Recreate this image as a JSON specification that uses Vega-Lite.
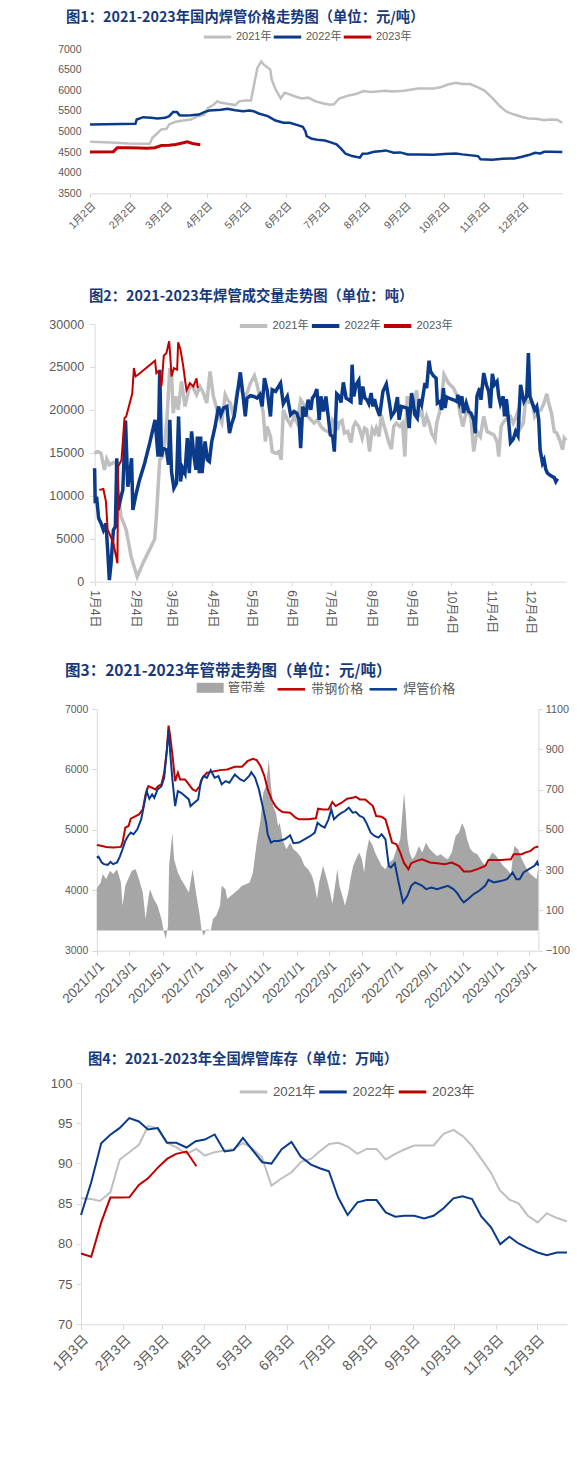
{
  "$schema": "https://vega.github.io/schema/vega-lite/v6.json",
  "padding": {"left": 48, "top": 11, "right": 0, "bottom": 0},
  "spacing": 130,
  "bounds": "flush",
  "resolve": {"scale": {"stroke": "independent", "fill": "independent"}, "legend": {"stroke": "independent", "fill": "independent"}},
  "config": {
    "view": {"stroke": null},
    "axis": {"grid": false, "domainColor": "#d9d9d9", "tickColor": "#d9d9d9", "labelColor": "#595959", "labelFont": "Liberation Sans, Noto Sans CJK SC", "labelOverlap": false},
    "title": {"font": "Noto Sans CJK SC", "fontWeight": "bold", "fontSize": 14.3, "color": "#17397a", "anchor": "start", "frame": "group"},
    "legend": {"orient": "none", "direction": "horizontal", "labelColor": "#595959", "labelFont": "Liberation Sans, Noto Sans CJK SC", "symbolType": "stroke", "symbolSize": 756}
  },
  "datasets": {
    "p1_2021": [{"d":2,"v":4750},{"d":18,"v":4730},{"d":32,"v":4705},{"d":48,"v":4702},{"d":50,"v":4840},{"d":57,"v":5050},{"d":61,"v":5065},{"d":63,"v":5170},{"d":68,"v":5235},{"d":74,"v":5265},{"d":80,"v":5290},{"d":85,"v":5370},{"d":90,"v":5410},{"d":93,"v":5570},{"d":97,"v":5640},{"d":100,"v":5730},{"d":102,"v":5700},{"d":108,"v":5670},{"d":114,"v":5640},{"d":117,"v":5730},{"d":122,"v":5750},{"d":126,"v":5750},{"d":128,"v":6060},{"d":131,"v":6540},{"d":134,"v":6700},{"d":136,"v":6620},{"d":141,"v":6500},{"d":142,"v":6260},{"d":145,"v":6020},{"d":149,"v":5800},{"d":152,"v":5940},{"d":156,"v":5900},{"d":159,"v":5860},{"d":165,"v":5800},{"d":170,"v":5820},{"d":176,"v":5730},{"d":182,"v":5680},{"d":187,"v":5650},{"d":190,"v":5660},{"d":194,"v":5800},{"d":201,"v":5870},{"d":207,"v":5910},{"d":213,"v":5980},{"d":218,"v":5960},{"d":230,"v":5990},{"d":235,"v":5970},{"d":244,"v":5990},{"d":255,"v":6040},{"d":267,"v":6040},{"d":272,"v":6070},{"d":278,"v":6140},{"d":284,"v":6180},{"d":289,"v":6150},{"d":295,"v":6150},{"d":301,"v":6070},{"d":306,"v":5990},{"d":312,"v":5815},{"d":318,"v":5610},{"d":323,"v":5480},{"d":329,"v":5410},{"d":335,"v":5350},{"d":340,"v":5315},{"d":346,"v":5310},{"d":352,"v":5275},{"d":357,"v":5290},{"d":362,"v":5285},{"d":366,"v":5210}],
    "p1_2022": [{"d":2,"v":5170},{"d":37,"v":5185},{"d":38,"v":5290},{"d":43,"v":5347},{"d":49,"v":5330},{"d":54,"v":5315},{"d":60,"v":5330},{"d":63,"v":5370},{"d":66,"v":5470},{"d":69,"v":5470},{"d":71,"v":5395},{"d":74,"v":5390},{"d":80,"v":5395},{"d":86,"v":5411},{"d":90,"v":5470},{"d":94,"v":5508},{"d":103,"v":5524},{"d":108,"v":5548},{"d":114,"v":5516},{"d":120,"v":5492},{"d":125,"v":5508},{"d":128,"v":5492},{"d":132,"v":5436},{"d":139,"v":5371},{"d":145,"v":5266},{"d":151,"v":5210},{"d":156,"v":5210},{"d":162,"v":5153},{"d":166,"v":5113},{"d":168,"v":5008},{"d":169,"v":4887},{"d":173,"v":4822},{"d":179,"v":4790},{"d":183,"v":4782},{"d":187,"v":4742},{"d":192,"v":4686},{"d":196,"v":4565},{"d":199,"v":4460},{"d":204,"v":4403},{"d":210,"v":4363},{"d":212,"v":4460},{"d":216,"v":4468},{"d":221,"v":4508},{"d":227,"v":4524},{"d":230,"v":4540},{"d":236,"v":4484},{"d":241,"v":4492},{"d":247,"v":4444},{"d":255,"v":4444},{"d":267,"v":4436},{"d":275,"v":4452},{"d":284,"v":4468},{"d":289,"v":4444},{"d":301,"v":4403},{"d":303,"v":4323},{"d":312,"v":4315},{"d":320,"v":4339},{"d":329,"v":4347},{"d":335,"v":4387},{"d":340,"v":4427},{"d":345,"v":4484},{"d":349,"v":4468},{"d":352,"v":4508},{"d":357,"v":4508},{"d":366,"v":4500}],
    "p1_2023": [{"d":2,"v":4500},{"d":20,"v":4510},{"d":23,"v":4605},{"d":32,"v":4605},{"d":40,"v":4600},{"d":46,"v":4590},{"d":52,"v":4605},{"d":57,"v":4660},{"d":63,"v":4665},{"d":68,"v":4685},{"d":74,"v":4726},{"d":77,"v":4750},{"d":81,"v":4710},{"d":87,"v":4680}],
    "p2_2021": [{"d":4,"v":14960},{"d":6.3,"v":15150},{"d":8.9,"v":14960},{"d":11.5,"v":13020},{"d":13.3,"v":14260},{"d":15.3,"v":13600},{"d":17.9,"v":13800},{"d":20.5,"v":13990},{"d":21.7,"v":10690},{"d":24.3,"v":7580},{"d":28.2,"v":6020},{"d":32,"v":2910},{"d":36.6,"v":580},{"d":41,"v":2140},{"d":50,"v":4935},{"d":51.3,"v":7580},{"d":53.9,"v":14180},{"d":55.9,"v":14570},{"d":57.7,"v":16130},{"d":59.5,"v":19240},{"d":61.6,"v":24870},{"d":62.9,"v":24290},{"d":64.2,"v":19620},{"d":66.2,"v":21570},{"d":68,"v":20010},{"d":70.6,"v":23320},{"d":73.2,"v":20400},{"d":75,"v":21570},{"d":77,"v":22930},{"d":79.6,"v":22540},{"d":82.1,"v":21760},{"d":84.7,"v":22730},{"d":87.3,"v":21960},{"d":89.9,"v":20790},{"d":92.4,"v":24480},{"d":95,"v":21570},{"d":97.1,"v":20400},{"d":98.9,"v":19240},{"d":101.4,"v":18460},{"d":104,"v":21760},{"d":105.8,"v":21180},{"d":107.9,"v":20790},{"d":110.4,"v":19240},{"d":113,"v":22150},{"d":115.6,"v":22730},{"d":118.1,"v":21570},{"d":120.7,"v":21960},{"d":123.3,"v":23120},{"d":126.4,"v":23980},{"d":128.4,"v":22930},{"d":131,"v":21180},{"d":133,"v":19820},{"d":134.8,"v":16320},{"d":136.1,"v":18070},{"d":138.7,"v":16900},{"d":140,"v":15150},{"d":142.6,"v":14960},{"d":145.1,"v":15150},{"d":146.9,"v":14180},{"d":148.5,"v":20010},{"d":151.6,"v":18850},{"d":154.1,"v":18260},{"d":156.7,"v":19240},{"d":159.3,"v":18460},{"d":161.8,"v":21180},{"d":164.4,"v":20600},{"d":167,"v":19240},{"d":169.6,"v":18850},{"d":172.1,"v":18460},{"d":174.7,"v":18850},{"d":177.3,"v":18070},{"d":179.8,"v":17680},{"d":182.4,"v":17490},{"d":185,"v":17290},{"d":186.3,"v":18850},{"d":188.9,"v":18460},{"d":190.1,"v":17680},{"d":191.4,"v":18540},{"d":193.5,"v":18770},{"d":195.3,"v":17290},{"d":197.9,"v":17490},{"d":200.4,"v":16200},{"d":202.2,"v":18070},{"d":203.8,"v":18540},{"d":206.3,"v":18070},{"d":208.9,"v":16710},{"d":210.7,"v":17880},{"d":212.5,"v":17680},{"d":214.6,"v":15150},{"d":216.6,"v":17760},{"d":218.4,"v":17290},{"d":219.7,"v":17880},{"d":221.8,"v":16900},{"d":223.6,"v":19430},{"d":225.4,"v":18260},{"d":227.4,"v":17290},{"d":229.5,"v":16130},{"d":231.3,"v":15430},{"d":233.1,"v":18070},{"d":235.1,"v":18460},{"d":237.7,"v":18070},{"d":239.8,"v":18460},{"d":241.6,"v":14570},{"d":243.4,"v":21570},{"d":245.4,"v":20790},{"d":247.5,"v":20010},{"d":249.3,"v":21370},{"d":250.6,"v":22270},{"d":252.6,"v":19240},{"d":254.4,"v":20010},{"d":256.5,"v":18070},{"d":258.3,"v":19240},{"d":260.1,"v":18460},{"d":262.1,"v":17290},{"d":264.7,"v":16520},{"d":266,"v":18460},{"d":268,"v":19620},{"d":269.8,"v":21370},{"d":271.6,"v":24090},{"d":275,"v":23120},{"d":278.8,"v":22540},{"d":281.9,"v":21570},{"d":284,"v":19430},{"d":286,"v":18070},{"d":287.8,"v":19240},{"d":290.4,"v":20010},{"d":292.2,"v":19040},{"d":294.3,"v":15150},{"d":296.8,"v":17490},{"d":299.4,"v":16900},{"d":302,"v":19240},{"d":304.5,"v":17490},{"d":307.1,"v":17290},{"d":309.7,"v":17100},{"d":312.2,"v":16320},{"d":313.5,"v":14570},{"d":315.3,"v":18070},{"d":317.4,"v":18650},{"d":320,"v":19040},{"d":322.5,"v":19240},{"d":324.6,"v":18460},{"d":326.4,"v":19040},{"d":327.7,"v":19620},{"d":330.2,"v":17880},{"d":332.3,"v":18460},{"d":334.1,"v":21180},{"d":336.7,"v":20870},{"d":339.2,"v":20790},{"d":341,"v":19240},{"d":343.1,"v":19820},{"d":345.7,"v":20010},{"d":348.2,"v":20790},{"d":350.3,"v":21880},{"d":352.1,"v":20600},{"d":353.9,"v":19620},{"d":356,"v":17490},{"d":358,"v":17290},{"d":360.6,"v":16320},{"d":362.4,"v":15350},{"d":363.7,"v":16710},{"d":365,"v":16440}],
    "p2_2022": [{"d":4,"v":13210},{"d":4.5,"v":9130},{"d":5.5,"v":9910},{"d":7.1,"v":7380},{"d":8.9,"v":6800},{"d":10.7,"v":6020},{"d":12.7,"v":6800},{"d":14,"v":3690},{"d":15.3,"v":190},{"d":16.6,"v":2140},{"d":18.4,"v":6020},{"d":19.9,"v":6410},{"d":21,"v":14380},{"d":22,"v":8350},{"d":24.3,"v":9910},{"d":25.6,"v":10690},{"d":27.7,"v":18770},{"d":29.4,"v":11070},{"d":30.7,"v":12240},{"d":32.3,"v":14380},{"d":33.3,"v":8350},{"d":35.9,"v":10300},{"d":38.4,"v":11850},{"d":42.3,"v":13800},{"d":46.2,"v":16130},{"d":50.3,"v":18850},{"d":52.6,"v":14570},{"d":53.9,"v":24680},{"d":55.2,"v":14570},{"d":56.4,"v":15540},{"d":59,"v":15350},{"d":60.6,"v":13600},{"d":61.6,"v":18850},{"d":62.9,"v":12820},{"d":64.7,"v":10880},{"d":66.7,"v":11460},{"d":68.3,"v":19240},{"d":69.8,"v":11660},{"d":71.4,"v":13210},{"d":73.2,"v":12630},{"d":75,"v":16710},{"d":76.5,"v":12630},{"d":78.3,"v":17490},{"d":80.1,"v":14570},{"d":81.6,"v":13020},{"d":82.7,"v":16900},{"d":84.2,"v":12630},{"d":85.2,"v":16900},{"d":86.3,"v":12630},{"d":88.6,"v":16320},{"d":90.4,"v":14180},{"d":91.9,"v":13990},{"d":93.7,"v":16320},{"d":96.3,"v":18070},{"d":98.9,"v":20400},{"d":100.7,"v":19430},{"d":102.7,"v":20210},{"d":105.3,"v":20400},{"d":107.3,"v":17290},{"d":109.1,"v":18460},{"d":110.9,"v":19240},{"d":113,"v":21570},{"d":115.6,"v":24370},{"d":117.6,"v":21760},{"d":119.4,"v":19240},{"d":120.7,"v":21370},{"d":123.3,"v":21650},{"d":125.9,"v":21570},{"d":128.4,"v":21370},{"d":130.5,"v":21760},{"d":132.3,"v":20400},{"d":134.1,"v":23700},{"d":136.1,"v":22350},{"d":138.7,"v":19240},{"d":140,"v":22350},{"d":142.6,"v":22150},{"d":146.4,"v":23120},{"d":148.5,"v":20710},{"d":151.6,"v":21570},{"d":154.1,"v":19430},{"d":156.7,"v":19820},{"d":158.8,"v":19620},{"d":160.6,"v":18850},{"d":161.8,"v":15540},{"d":163.4,"v":20400},{"d":165.7,"v":19240},{"d":167.5,"v":21180},{"d":169.6,"v":20010},{"d":170.8,"v":21370},{"d":172.6,"v":21760},{"d":174.2,"v":22420},{"d":176,"v":18850},{"d":177.3,"v":21570},{"d":179.3,"v":19820},{"d":181.1,"v":21570},{"d":182.9,"v":19240},{"d":184.5,"v":17100},{"d":186.3,"v":16900},{"d":187.6,"v":15150},{"d":189.4,"v":21880},{"d":191.4,"v":21570},{"d":192.7,"v":20870},{"d":194.5,"v":23200},{"d":196.6,"v":21370},{"d":198.6,"v":21180},{"d":200.4,"v":20980},{"d":201.2,"v":25260},{"d":202.5,"v":21570},{"d":204.3,"v":22930},{"d":206.3,"v":23430},{"d":207.6,"v":20600},{"d":209.4,"v":22730},{"d":211,"v":21370},{"d":212.5,"v":21180},{"d":214,"v":20710},{"d":215.8,"v":21960},{"d":217.1,"v":20400},{"d":218.4,"v":21260},{"d":219.7,"v":20400},{"d":222.3,"v":19310},{"d":224.8,"v":22150},{"d":227.4,"v":23010},{"d":229.5,"v":21100},{"d":231.3,"v":19240},{"d":233.8,"v":19820},{"d":235.9,"v":21490},{"d":237.2,"v":18850},{"d":239,"v":20400},{"d":240.8,"v":20320},{"d":243.4,"v":20210},{"d":244.9,"v":17880},{"d":246.7,"v":21960},{"d":248,"v":20980},{"d":249.3,"v":19430},{"d":251.1,"v":19040},{"d":252.6,"v":21260},{"d":254.4,"v":20600},{"d":257,"v":23120},{"d":258.3,"v":22540},{"d":260.1,"v":25730},{"d":261.3,"v":24480},{"d":263.4,"v":23980},{"d":265.5,"v":23700},{"d":266.5,"v":20790},{"d":268.5,"v":20980},{"d":269.8,"v":20010},{"d":271.1,"v":22540},{"d":272.4,"v":20210},{"d":273.7,"v":21490},{"d":276.3,"v":21300},{"d":278.8,"v":21180},{"d":281.4,"v":20980},{"d":282.2,"v":21760},{"d":283.5,"v":20790},{"d":285.3,"v":21570},{"d":286.5,"v":19620},{"d":288.6,"v":20790},{"d":290.4,"v":19820},{"d":292.2,"v":19620},{"d":294.3,"v":18850},{"d":295.5,"v":17290},{"d":296.8,"v":21570},{"d":298.9,"v":22540},{"d":299.9,"v":21180},{"d":302,"v":24290},{"d":304,"v":22930},{"d":305.8,"v":22150},{"d":307.1,"v":20210},{"d":308.6,"v":24210},{"d":310.2,"v":22930},{"d":312.2,"v":23320},{"d":313.5,"v":21570},{"d":314.8,"v":20710},{"d":316.9,"v":21570},{"d":317.9,"v":19240},{"d":319.4,"v":21260},{"d":321.2,"v":18460},{"d":322.5,"v":16200},{"d":324.6,"v":16590},{"d":326.4,"v":17490},{"d":328.2,"v":16980},{"d":330.2,"v":22930},{"d":332.8,"v":20980},{"d":334.9,"v":21570},{"d":336.2,"v":26620},{"d":337.4,"v":21570},{"d":339.2,"v":20790},{"d":341,"v":20010},{"d":342.6,"v":20400},{"d":344.1,"v":18850},{"d":345.2,"v":15350},{"d":347,"v":13800},{"d":348.2,"v":14180},{"d":349.5,"v":13100},{"d":350.8,"v":12630},{"d":353.4,"v":12320},{"d":356,"v":12120},{"d":357.2,"v":11660},{"d":358.5,"v":12010}],
    "p2_2023": [{"d":7.6,"v":10690},{"d":10.7,"v":10800},{"d":12.7,"v":9330},{"d":14,"v":6020},{"d":15.3,"v":5630},{"d":18.4,"v":4470},{"d":21.5,"v":2140},{"d":22,"v":13410},{"d":24.6,"v":14180},{"d":26.9,"v":19040},{"d":28.2,"v":19240},{"d":32.8,"v":21880},{"d":34.1,"v":24870},{"d":35.4,"v":23900},{"d":37.2,"v":24090},{"d":50.3,"v":25730},{"d":51.3,"v":24290},{"d":52.6,"v":24480},{"d":53.9,"v":24290},{"d":55.2,"v":22730},{"d":57,"v":26310},{"d":59,"v":26620},{"d":61.1,"v":27980},{"d":61.8,"v":26620},{"d":62.9,"v":23900},{"d":64.7,"v":24870},{"d":67.2,"v":24680},{"d":68,"v":27860},{"d":69.8,"v":27010},{"d":71.9,"v":25060},{"d":73.4,"v":23320},{"d":74.4,"v":22270},{"d":77,"v":23120},{"d":79.6,"v":22730},{"d":82.1,"v":23670},{"d":82.9,"v":22660},{"d":83.7,"v":22730}],
    "p3_gap": [{"d":0,"g":210},{"d":7,"g":238},{"d":11,"g":280},{"d":17,"g":255},{"d":24,"g":296},{"d":30,"g":280},{"d":37,"g":304},{"d":44,"g":238},{"d":47,"g":123},{"d":52,"g":222},{"d":57,"g":255},{"d":64,"g":296},{"d":71,"g":304},{"d":77,"g":255},{"d":84,"g":189},{"d":89,"g":57},{"d":94,"g":156},{"d":97,"g":205},{"d":104,"g":156},{"d":111,"g":123},{"d":118,"g":57},{"d":122,"g":-1},{"d":126,"g":-42},{"d":130,"g":24},{"d":132,"g":321},{"d":138,"g":486},{"d":141,"g":354},{"d":148,"g":288},{"d":154,"g":255},{"d":161,"g":222},{"d":168,"g":189},{"d":175,"g":304},{"d":181,"g":189},{"d":188,"g":73},{"d":191,"g":7},{"d":195,"g":-26},{"d":201,"g":7},{"d":208,"g":-1},{"d":212,"g":57},{"d":218,"g":73},{"d":225,"g":123},{"d":228,"g":222},{"d":235,"g":205},{"d":238,"g":156},{"d":245,"g":172},{"d":252,"g":189},{"d":259,"g":205},{"d":265,"g":222},{"d":272,"g":230},{"d":279,"g":238},{"d":285,"g":288},{"d":292,"g":436},{"d":299,"g":552},{"d":304,"g":684},{"d":309,"g":717},{"d":314,"g":849},{"d":318,"g":717},{"d":322,"g":618},{"d":327,"g":585},{"d":331,"g":519},{"d":334,"g":535},{"d":339,"g":453},{"d":346,"g":403},{"d":353,"g":436},{"d":359,"g":403},{"d":366,"g":387},{"d":373,"g":362},{"d":379,"g":321},{"d":386,"g":304},{"d":393,"g":271},{"d":398,"g":222},{"d":402,"g":156},{"d":406,"g":238},{"d":413,"g":321},{"d":420,"g":255},{"d":426,"g":189},{"d":430,"g":131},{"d":435,"g":222},{"d":439,"g":304},{"d":443,"g":222},{"d":450,"g":156},{"d":453,"g":123},{"d":459,"g":189},{"d":463,"g":255},{"d":468,"g":321},{"d":473,"g":354},{"d":479,"g":387},{"d":484,"g":354},{"d":488,"g":288},{"d":492,"g":387},{"d":497,"g":453},{"d":504,"g":420},{"d":508,"g":387},{"d":514,"g":354},{"d":520,"g":321},{"d":527,"g":304},{"d":534,"g":337},{"d":541,"g":354},{"d":547,"g":403},{"d":554,"g":453},{"d":557,"g":552},{"d":561,"g":684},{"d":564,"g":585},{"d":567,"g":453},{"d":571,"g":387},{"d":576,"g":354},{"d":581,"g":370},{"d":588,"g":420},{"d":594,"g":387},{"d":601,"g":436},{"d":608,"g":403},{"d":614,"g":387},{"d":621,"g":370},{"d":628,"g":379},{"d":635,"g":362},{"d":641,"g":354},{"d":648,"g":387},{"d":655,"g":469},{"d":661,"g":486},{"d":667,"g":532},{"d":672,"g":502},{"d":676,"g":453},{"d":682,"g":403},{"d":688,"g":387},{"d":695,"g":379},{"d":702,"g":346},{"d":709,"g":321},{"d":715,"g":354},{"d":722,"g":387},{"d":729,"g":370},{"d":735,"g":346},{"d":742,"g":321},{"d":749,"g":304},{"d":756,"g":280},{"d":762,"g":420},{"d":769,"g":403},{"d":776,"g":354},{"d":782,"g":321},{"d":789,"g":288},{"d":796,"g":271},{"d":803,"g":255},{"d":806,"g":321}],
    "p3_strip": [{"d":0,"v":4750},{"d":10,"v":4733},{"d":17,"v":4717},{"d":30,"v":4706},{"d":44,"v":4717},{"d":47,"v":4788},{"d":52,"v":5036},{"d":58,"v":5063},{"d":62,"v":5184},{"d":71,"v":5228},{"d":77,"v":5256},{"d":84,"v":5338},{"d":89,"v":5586},{"d":94,"v":5723},{"d":101,"v":5696},{"d":107,"v":5668},{"d":112,"v":5723},{"d":118,"v":5751},{"d":123,"v":5944},{"d":128,"v":6329},{"d":131,"v":6725},{"d":134,"v":6549},{"d":139,"v":6164},{"d":143,"v":5806},{"d":148,"v":5944},{"d":152,"v":5834},{"d":161,"v":5834},{"d":168,"v":5751},{"d":175,"v":5668},{"d":181,"v":5641},{"d":188,"v":5723},{"d":193,"v":5861},{"d":201,"v":5944},{"d":208,"v":5955},{"d":215,"v":5971},{"d":225,"v":5988},{"d":238,"v":5999},{"d":252,"v":6043},{"d":265,"v":6043},{"d":275,"v":6136},{"d":285,"v":6175},{"d":292,"v":6153},{"d":299,"v":6054},{"d":306,"v":5889},{"d":312,"v":5668},{"d":319,"v":5503},{"d":326,"v":5393},{"d":332,"v":5338},{"d":339,"v":5294},{"d":353,"v":5283},{"d":363,"v":5201},{"d":369,"v":5173},{"d":386,"v":5173},{"d":400,"v":5190},{"d":404,"v":5349},{"d":413,"v":5338},{"d":423,"v":5338},{"d":430,"v":5459},{"d":436,"v":5393},{"d":447,"v":5448},{"d":457,"v":5514},{"d":467,"v":5531},{"d":473,"v":5547},{"d":480,"v":5503},{"d":490,"v":5503},{"d":497,"v":5448},{"d":504,"v":5393},{"d":510,"v":5228},{"d":520,"v":5217},{"d":527,"v":5173},{"d":534,"v":4953},{"d":539,"v":4788},{"d":547,"v":4761},{"d":554,"v":4623},{"d":561,"v":4447},{"d":569,"v":4348},{"d":574,"v":4447},{"d":584,"v":4486},{"d":594,"v":4513},{"d":601,"v":4486},{"d":608,"v":4458},{"d":621,"v":4447},{"d":635,"v":4431},{"d":648,"v":4458},{"d":661,"v":4403},{"d":670,"v":4310},{"d":682,"v":4310},{"d":695,"v":4348},{"d":709,"v":4403},{"d":715,"v":4502},{"d":725,"v":4502},{"d":739,"v":4502},{"d":756,"v":4513},{"d":761,"v":4596},{"d":769,"v":4596},{"d":776,"v":4596},{"d":782,"v":4623},{"d":792,"v":4651},{"d":799,"v":4706},{"d":806,"v":4722}],
    "p3_pipe": [{"d":0,"v":4541},{"d":3,"v":4557},{"d":9,"v":4458},{"d":13,"v":4431},{"d":20,"v":4420},{"d":25,"v":4469},{"d":30,"v":4431},{"d":37,"v":4458},{"d":42,"v":4557},{"d":47,"v":4678},{"d":52,"v":4816},{"d":57,"v":4898},{"d":62,"v":4953},{"d":67,"v":4926},{"d":74,"v":5008},{"d":81,"v":5173},{"d":87,"v":5448},{"d":91,"v":5641},{"d":96,"v":5514},{"d":101,"v":5586},{"d":105,"v":5531},{"d":111,"v":5668},{"d":118,"v":5723},{"d":123,"v":5861},{"d":128,"v":6329},{"d":131,"v":6659},{"d":134,"v":6274},{"d":138,"v":5834},{"d":143,"v":5393},{"d":148,"v":5641},{"d":154,"v":5613},{"d":161,"v":5558},{"d":168,"v":5503},{"d":171,"v":5393},{"d":178,"v":5448},{"d":185,"v":5503},{"d":190,"v":5806},{"d":195,"v":5889},{"d":201,"v":5861},{"d":208,"v":5988},{"d":215,"v":5861},{"d":222,"v":5889},{"d":228,"v":5751},{"d":235,"v":5806},{"d":242,"v":5779},{"d":252,"v":5916},{"d":262,"v":5834},{"d":269,"v":5806},{"d":279,"v":5900},{"d":282,"v":5955},{"d":289,"v":5861},{"d":296,"v":5668},{"d":300,"v":5503},{"d":304,"v":5338},{"d":309,"v":5118},{"d":312,"v":4926},{"d":318,"v":4788},{"d":324,"v":4816},{"d":332,"v":4816},{"d":343,"v":4843},{"d":353,"v":4909},{"d":359,"v":4777},{"d":369,"v":4788},{"d":379,"v":4843},{"d":390,"v":4898},{"d":398,"v":4953},{"d":403,"v":5118},{"d":410,"v":5063},{"d":416,"v":5036},{"d":423,"v":5173},{"d":428,"v":5338},{"d":433,"v":5173},{"d":439,"v":5228},{"d":445,"v":5272},{"d":453,"v":5311},{"d":460,"v":5366},{"d":467,"v":5283},{"d":473,"v":5294},{"d":480,"v":5228},{"d":487,"v":5201},{"d":492,"v":5118},{"d":500,"v":4953},{"d":507,"v":4898},{"d":514,"v":4871},{"d":520,"v":4926},{"d":527,"v":4843},{"d":533,"v":4403},{"d":537,"v":4376},{"d":544,"v":4447},{"d":551,"v":4128},{"d":559,"v":3798},{"d":567,"v":3908},{"d":574,"v":4073},{"d":581,"v":4128},{"d":588,"v":4100},{"d":594,"v":4073},{"d":601,"v":4018},{"d":611,"v":4045},{"d":621,"v":4018},{"d":631,"v":4045},{"d":641,"v":4073},{"d":651,"v":4018},{"d":658,"v":3952},{"d":665,"v":3853},{"d":670,"v":3798},{"d":678,"v":3853},{"d":688,"v":3935},{"d":698,"v":3990},{"d":709,"v":4073},{"d":715,"v":4172},{"d":725,"v":4128},{"d":739,"v":4155},{"d":749,"v":4183},{"d":759,"v":4293},{"d":766,"v":4183},{"d":772,"v":4183},{"d":779,"v":4293},{"d":789,"v":4348},{"d":799,"v":4403},{"d":804,"v":4469},{"d":806,"v":4403}],
    "p4_2021": [{"d":3,"v":85.66},{"d":10.5,"v":85.58},{"d":16.9,"v":85.33},{"d":24.5,"v":86.41},{"d":31.4,"v":90.48},{"d":38.4,"v":91.4},{"d":45.4,"v":92.31},{"d":52.1,"v":94.64},{"d":58.8,"v":94.39},{"d":66,"v":92.56},{"d":72.7,"v":92.02},{"d":80.3,"v":91.19},{"d":87.5,"v":91.81},{"d":93.7,"v":90.98},{"d":100.9,"v":91.4},{"d":108.2,"v":91.6},{"d":114.9,"v":91.81},{"d":121.6,"v":92.52},{"d":128.5,"v":91.89},{"d":135.5,"v":90.77},{"d":142.5,"v":87.24},{"d":149.2,"v":88.07},{"d":157.2,"v":88.9},{"d":164.5,"v":90.23},{"d":171.5,"v":90.56},{"d":177.9,"v":91.52},{"d":184.9,"v":92.43},{"d":191.6,"v":92.56},{"d":198.3,"v":92.1},{"d":205.5,"v":91.19},{"d":212.2,"v":91.81},{"d":219.5,"v":91.81},{"d":226.2,"v":90.48},{"d":233.2,"v":91.19},{"d":239.9,"v":91.73},{"d":247.1,"v":92.23},{"d":254.6,"v":92.23},{"d":261.3,"v":92.23},{"d":268.6,"v":93.68},{"d":275.8,"v":94.18},{"d":282.8,"v":93.39},{"d":289.2,"v":92.23},{"d":296.2,"v":90.56},{"d":303.4,"v":88.82},{"d":309.6,"v":86.7},{"d":316.8,"v":85.5},{"d":323.5,"v":85.04},{"d":330.3,"v":83.5},{"d":337.5,"v":82.67},{"d":344.2,"v":83.79},{"d":351.7,"v":83.21},{"d":359,"v":82.8}],
    "p4_2022": [{"d":3,"v":83.59},{"d":10.5,"v":87.66},{"d":17.8,"v":92.52},{"d":24.5,"v":93.56},{"d":31.2,"v":94.39},{"d":38.4,"v":95.63},{"d":45.4,"v":95.22},{"d":52.1,"v":94.23},{"d":59.3,"v":94.39},{"d":66,"v":92.56},{"d":72.7,"v":92.56},{"d":80.3,"v":91.98},{"d":87,"v":92.77},{"d":93.7,"v":92.97},{"d":100.9,"v":93.6},{"d":108.2,"v":91.48},{"d":114.9,"v":91.65},{"d":121.6,"v":93.18},{"d":128.5,"v":91.69},{"d":135.8,"v":90.15},{"d":142.5,"v":89.98},{"d":150,"v":91.77},{"d":157.2,"v":92.68},{"d":163.9,"v":90.86},{"d":171.5,"v":89.86},{"d":177.9,"v":89.4},{"d":184.6,"v":89.03},{"d":191.3,"v":85.79},{"d":198.3,"v":83.59},{"d":205.5,"v":85.16},{"d":212.2,"v":85.45},{"d":219.5,"v":85.45},{"d":226.2,"v":83.92},{"d":233.2,"v":83.38},{"d":239.9,"v":83.5},{"d":247.1,"v":83.5},{"d":254.3,"v":83.17},{"d":261.3,"v":83.5},{"d":268.6,"v":84.42},{"d":275.8,"v":85.66},{"d":282.5,"v":85.91},{"d":289.5,"v":85.58},{"d":296.2,"v":83.42},{"d":303.4,"v":82.05},{"d":310.1,"v":79.97},{"d":316.8,"v":80.88},{"d":323.5,"v":80.05},{"d":330.3,"v":79.47},{"d":337.5,"v":78.93},{"d":344.2,"v":78.6},{"d":351.7,"v":78.93},{"d":359,"v":78.93}],
    "p4_2023": [{"d":3,"v":78.81},{"d":10.5,"v":78.39},{"d":17.8,"v":82.67},{"d":24.5,"v":85.75},{"d":31.2,"v":85.75},{"d":38.4,"v":85.79},{"d":45.4,"v":87.32},{"d":52.1,"v":88.15},{"d":59.3,"v":89.48},{"d":66,"v":90.56},{"d":72.7,"v":91.19},{"d":80.3,"v":91.48},{"d":87.5,"v":89.65}]
  },
  "vconcat": [
    {
      "width": 481.3,
      "height": 144.3,
      "title": {"text": "图1：2021-2023年国内焊管价格走势图（单位：元/吨）", "dx": -15, "offset": -4},
      "encoding": {
        "x": {"field": "d", "type": "quantitative", "title": null,
              "scale": {"domain": [2, 366], "range": [9, 481.3]},
              "axis": {"values": [2,33,61,92,122,153,183,214,245,275,306,336], "labelExpr": "(indexof([2,33,61,92,122,153,183,214,245,275,306,336], datum.value)+1) + '月2日'", "labelAngle": -45, "labelFontSize": 10.5, "tickSize": 4, "labelPadding": 3}},
        "y": {"field": "v", "type": "quantitative", "title": null,
              "scale": {"domain": [3500, 7000], "zero": false},
              "axis": {"values": [3500,4000,4500,5000,5500,6000,6500,7000], "format": "d", "domain": false, "ticks": false, "labelPadding": 9, "labelFontSize": 10.5, "offset": -9}}
      },
      "layer": [
        {"data": {"name": "p1_2021"}, "mark": {"type": "line", "strokeWidth": 2.5},
         "encoding": {"stroke": {"datum": "2021年", "type": "nominal",
           "scale": {"domain": ["2021年", "2022年", "2023年"], "range": ["#bfbfbf", "#0a3a8a", "#c00000"]},
           "legend": {"title": null, "legendX": 121, "legendY": -27.7, "labelFontSize": 11, "symbolStrokeWidth": 3, "columnPadding": -5.5, "labelOffset": 3}}}},
        {"data": {"name": "p1_2022"}, "mark": {"type": "line", "strokeWidth": 2.5}, "encoding": {"stroke": {"datum": "2022年", "type": "nominal"}}},
        {"data": {"name": "p1_2023"}, "mark": {"type": "line", "strokeWidth": 3}, "encoding": {"stroke": {"datum": "2023年", "type": "nominal"}}}
      ]
    },
    {
      "width": 485,
      "height": 254.7,
      "title": {"text": "图2：2021-2023年焊管成交量走势图（单位：吨）", "dx": 8, "offset": 6},
      "encoding": {
        "x": {"field": "d", "type": "quantitative", "title": null,
              "scale": {"domain": [4, 365], "range": [13.6, 485]},
              "axis": {"values": [4,35,63,94,124,155,185,216,247,277,308,338], "labelExpr": "(indexof([4,35,63,94,124,155,185,216,247,277,308,338], datum.value)+1) + '月4日'", "labelAngle": 90, "labelFontSize": 12, "tickSize": 4, "labelPadding": 4, "offset": 3}},
        "y": {"field": "v", "type": "quantitative", "title": null,
              "scale": {"domain": [0, 30000], "range": [257.7, 0]},
              "axis": {"values": [0,5000,10000,15000,20000,25000,30000], "format": "d", "tickSize": 5, "labelPadding": 6, "labelFontSize": 12.5, "offset": -13.6}}
      },
      "layer": [
        {"data": {"name": "p2_2021"}, "mark": {"type": "line", "strokeWidth": 3.5},
         "encoding": {"stroke": {"datum": "2021年", "type": "nominal",
           "scale": {"domain": ["2021年", "2022年", "2023年"], "range": ["#bfbfbf", "#0a3a8a", "#c00000"]},
           "legend": {"title": null, "legendX": 156.6, "legendY": -14, "labelFontSize": 11.2, "symbolStrokeWidth": 4, "columnPadding": -7, "labelOffset": 3}}}},
        {"data": {"name": "p2_2022"}, "mark": {"type": "line", "strokeWidth": 3.5}, "encoding": {"stroke": {"datum": "2022年", "type": "nominal"}}},
        {"data": {"name": "p2_2023"}, "mark": {"type": "line", "strokeWidth": 2}, "encoding": {"stroke": {"datum": "2023年", "type": "nominal"}}}
      ]
    },
    {
      "width": 457.3,
      "height": 244,
      "title": {"text": "图3：2021-2023年管带走势图（单位：元/吨）", "dx": -16, "offset": -5, "fontSize": 15.5},
      "encoding": {
        "x": {"field": "d", "type": "quantitative", "title": null,
              "scale": {"domain": [0, 806], "range": [15.8, 457.3]},
              "axis": {"values": [0,59,120,181,243,304,365,424,485,546,608,669,730,789], "labelExpr": "['2021/1/1','2021/3/1','2021/5/1','2021/7/1','2021/9/1','2021/11/1','2022/1/1','2022/3/1','2022/5/1','2022/7/1','2022/9/1','2022/11/1','2023/1/1','2023/3/1'][indexof([0,59,120,181,243,304,365,424,485,546,608,669,730,789], datum.value)]", "labelAngle": -45, "labelFontSize": 13.5, "tickSize": 5, "labelPadding": 3, "offset": -2.4}}
      },
      "layer": [
        {"data": {"name": "p3_gap"}, "mark": {"type": "area"},
         "encoding": {
           "y": {"field": "g", "type": "quantitative", "title": null,
                 "scale": {"domain": [-100, 1100], "range": [241.6, 0]},
                 "axis": {"orient": "right", "values": [-100,100,300,500,700,900,1100], "format": "d", "tickSize": 4, "labelPadding": 3, "labelFontSize": 10.8}},
           "y2": {"datum": 0},
           "fill": {"datum": "管带差", "type": "nominal", "scale": {"domain": ["管带差"], "range": ["#a6a6a6"]},
             "legend": {"title": null, "legendX": 115.7, "legendY": -34.7, "symbolType": "M-1,-0.37H1V0.37H-1Z", "symbolSize": 729, "symbolStrokeWidth": 0, "labelFontSize": 12.5, "labelOffset": 4}}
         }},
        {"encoding": {
           "y": {"field": "v", "type": "quantitative", "title": null,
                 "scale": {"domain": [3000, 7000], "zero": false, "range": [241.6, 0]},
                 "axis": {"orient": "left", "values": [3000,4000,5000,6000,7000], "format": "d", "tickSize": 5, "labelPadding": 4, "labelFontSize": 10.5, "offset": -15.8}}
         },
         "layer": [
           {"data": {"name": "p3_strip"}, "mark": {"type": "line", "strokeWidth": 2},
            "encoding": {"stroke": {"datum": "带钢价格", "type": "nominal",
              "scale": {"domain": ["带钢价格", "焊管价格"], "range": ["#c00000", "#0a3a8a"]},
              "legend": {"title": null, "legendX": 195.3, "legendY": -34.7, "labelFontSize": 13, "symbolStrokeWidth": 2.5, "columnPadding": 0, "labelOffset": 5}}}},
           {"data": {"name": "p3_pipe"}, "mark": {"type": "line", "strokeWidth": 2}, "encoding": {"stroke": {"datum": "焊管价格", "type": "nominal"}}}
         ]}
      ],
      "resolve": {"scale": {"y": "independent"}}
    },
    {
      "width": 486,
      "height": 241.3,
      "title": {"text": "图4：2021-2023年全国焊管库存（单位：万吨）", "dx": 7, "offset": 9},
      "encoding": {
        "x": {"field": "d", "type": "quantitative", "title": null,
              "scale": {"domain": [3, 359]},
              "axis": {"values": [3,34,62,93,123,154,184,215,246,276,307,337], "labelExpr": "(indexof([3,34,62,93,123,154,184,215,246,276,307,337], datum.value)+1) + '月3日'", "labelAngle": -45, "labelFontSize": 14, "tickSize": 5, "labelPadding": 3}},
        "y": {"field": "v", "type": "quantitative", "title": null,
              "scale": {"domain": [70, 100], "zero": false},
              "axis": {"values": [70,75,80,85,90,95,100], "tickSize": 5, "labelPadding": 4, "labelFontSize": 13}}
      },
      "layer": [
        {"data": {"name": "p4_2021"}, "mark": {"type": "line", "strokeWidth": 2},
         "encoding": {"stroke": {"datum": "2021年", "type": "nominal",
           "scale": {"domain": ["2021年", "2022年", "2023年"], "range": ["#bfbfbf", "#0a3a8a", "#c00000"]},
           "legend": {"title": null, "legendX": 157, "legendY": -6.7, "labelFontSize": 13.2, "symbolStrokeWidth": 3, "columnPadding": -3.5, "labelOffset": 4}}}},
        {"data": {"name": "p4_2022"}, "mark": {"type": "line", "strokeWidth": 2}, "encoding": {"stroke": {"datum": "2022年", "type": "nominal"}}},
        {"data": {"name": "p4_2023"}, "mark": {"type": "line", "strokeWidth": 2}, "encoding": {"stroke": {"datum": "2023年", "type": "nominal"}}}
      ]
    }
  ]
}
